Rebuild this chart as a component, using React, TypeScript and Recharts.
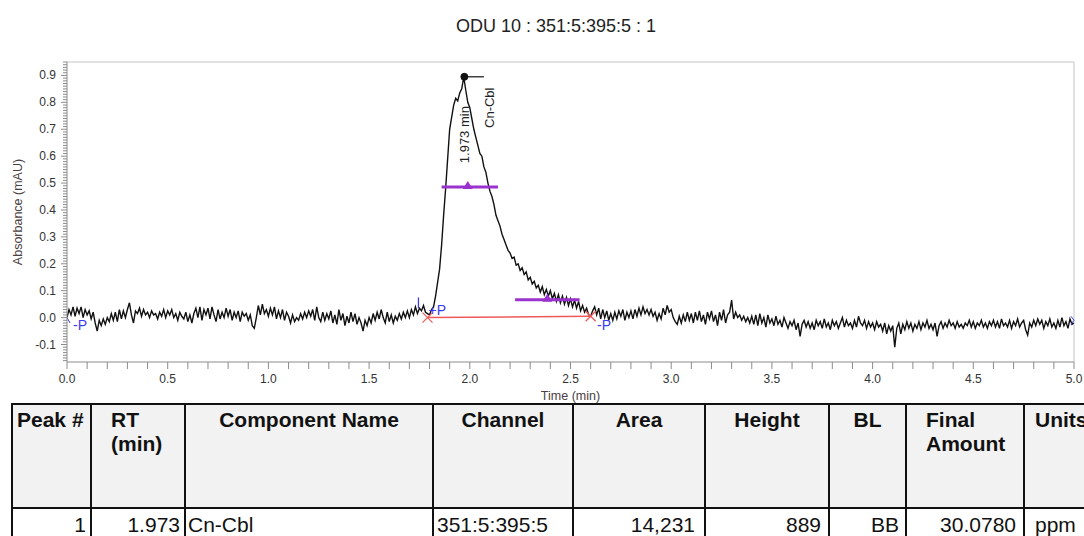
import React from 'react';
import { ComposedChart, Line, XAxis, YAxis, ReferenceLine, ReferenceDot } from 'recharts';

// ---------- data ----------
const chartTitle = 'ODU 10 : 351:5:395:5 : 1';
const xAxisTitle = 'Time (min)';
const yAxisTitle = 'Absorbance (mAU)';

const sampleStep = 0.01; // min between detector samples (0.00 .. 5.00)

// detector signal (mAU), one value per sample
const absorbance: number[] = [
  // 0.00
  0.000, 0.030, 0.010, 0.040, 0.005, 0.035, 0.015, 0.040, 0.000, 0.030,
  // 0.10
  0.010, 0.025, -0.005, 0.020, -0.020, -0.050, -0.010, -0.030, -0.005, -0.025,
  // 0.20
  0.000, -0.015, 0.015, -0.010, 0.020, -0.015, 0.030, -0.005, 0.025, 0.000,
  // 0.30
  0.030, 0.055, 0.010, -0.020, 0.025, 0.015, 0.035, 0.005, 0.030, 0.010,
  // 0.40
  0.020, 0.000, 0.025, 0.010, 0.015, -0.005, 0.020, 0.005, 0.030, 0.000,
  // 0.50
  0.025, 0.010, 0.030, 0.000, 0.015, -0.010, 0.020, 0.005, -0.005, 0.020,
  // 0.60
  -0.015, 0.010, -0.020, 0.015, 0.035, 0.000, 0.040, -0.010, 0.030, 0.010,
  // 0.70
  0.035, -0.005, 0.040, 0.010, -0.015, 0.030, -0.005, 0.020, 0.000, 0.035,
  // 0.80
  0.005, 0.030, -0.010, 0.020, 0.000, 0.025, -0.015, 0.020, 0.005, 0.015,
  // 0.90
  -0.010, 0.010, -0.030, -0.040, 0.000, 0.045, 0.010, 0.050, 0.015, 0.030,
  // 1.00
  0.005, 0.035, 0.010, 0.040, -0.005, 0.025, 0.000, 0.030, -0.010, 0.020,
  // 1.10
  0.005, -0.020, 0.010, -0.015, 0.000, -0.010, 0.015, -0.005, 0.020, 0.000,
  // 1.20
  0.025, 0.005, 0.030, -0.010, 0.040, 0.000, -0.015, 0.020, -0.010, 0.015,
  // 1.30
  -0.005, 0.025, -0.020, 0.010, -0.025, 0.030, -0.010, 0.015, -0.030, 0.005,
  // 1.40
  -0.020, 0.020, -0.015, 0.015, -0.025, 0.000, -0.020, -0.050, -0.010, -0.030,
  // 1.50
  0.000, -0.020, 0.015, -0.010, 0.020, -0.005, 0.030, 0.000, -0.020, 0.020,
  // 1.60
  -0.015, 0.010, -0.020, 0.005, -0.010, 0.015, -0.005, 0.020, 0.000, 0.025,
  // 1.70
  0.000, 0.030, 0.010, 0.040, 0.015, 0.035, 0.025, 0.045, 0.020, 0.015,
  // 1.80
  0.010, 0.030, 0.040, 0.080, 0.130, 0.180, 0.270, 0.380, 0.480, 0.590,
  // 1.90
  0.700, 0.745, 0.790, 0.815, 0.805, 0.835, 0.850, 0.895, 0.845, 0.800,
  // 2.00
  0.780, 0.740, 0.700, 0.670, 0.640, 0.610, 0.600, 0.560, 0.540, 0.500,
  // 2.10
  0.470, 0.450, 0.420, 0.380, 0.360, 0.340, 0.310, 0.290, 0.270, 0.250,
  // 2.20
  0.240, 0.220, 0.225, 0.195, 0.200, 0.175, 0.185, 0.160, 0.170, 0.140,
  // 2.30
  0.150, 0.125, 0.135, 0.110, 0.120, 0.095, 0.115, 0.085, 0.105, 0.080,
  // 2.40
  0.100, 0.070, 0.090, 0.060, 0.085, 0.055, 0.080, 0.050, 0.075, 0.045,
  // 2.50
  0.070, 0.040, 0.065, 0.035, 0.060, 0.025, 0.045, 0.020, 0.035, 0.010,
  // 2.60
  0.005, 0.025, 0.040, 0.010, 0.035, -0.005, 0.030, 0.000, 0.025, -0.010,
  // 2.70
  0.015, -0.010, 0.020, -0.005, 0.025, 0.005, 0.030, -0.010, 0.020, 0.000,
  // 2.80
  0.025, -0.005, 0.030, 0.005, 0.035, 0.010, 0.040, 0.015, 0.030, 0.010,
  // 2.90
  0.030, 0.005, 0.020, -0.010, 0.015, -0.005, 0.035, 0.010, 0.045, 0.020,
  // 3.00
  0.030, 0.000, -0.015, -0.025, 0.005, -0.020, 0.010, -0.015, 0.020, -0.010,
  // 3.10
  0.015, -0.020, 0.020, -0.010, 0.025, -0.015, 0.010, -0.025, 0.020, -0.005,
  // 3.20
  0.025, -0.015, 0.010, -0.030, 0.020, -0.010, 0.030, -0.020, 0.010, 0.020,
  // 3.30
  0.065, -0.005, 0.020, 0.000, 0.010, -0.010, 0.005, -0.015, 0.000, -0.020,
  // 3.40
  0.005, -0.025, 0.010, -0.030, 0.015, -0.020, 0.000, -0.035, 0.010, -0.020,
  // 3.50
  -0.005, -0.030, 0.005, -0.025, -0.010, -0.035, 0.000, -0.020, -0.040, -0.015,
  // 3.60
  -0.030, -0.010, -0.045, -0.020, -0.070, -0.025, -0.010, -0.035, -0.015, -0.040,
  // 3.70
  -0.020, -0.045, -0.010, -0.030, -0.015, -0.040, -0.005, -0.035, -0.020, -0.045,
  // 3.80
  -0.010, -0.030, -0.015, -0.040, -0.020, 0.000, -0.035, -0.010, -0.030, -0.020,
  // 3.90
  -0.040, -0.010, -0.035, 0.005, -0.020, -0.030, -0.010, -0.040, -0.015, -0.035,
  // 4.00
  -0.020, -0.045, -0.015, -0.035, -0.025, -0.050, -0.020, -0.060, -0.030, -0.050,
  // 4.10
  -0.030, -0.110, -0.040, -0.020, -0.060, -0.025, -0.045, -0.015, -0.040, -0.020,
  // 4.20
  -0.050, -0.025, -0.040, -0.015, -0.045, -0.020, -0.035, -0.010, -0.040, -0.025,
  // 4.30
  -0.045, -0.020, -0.070, -0.030, -0.015, -0.040, -0.020, -0.035, -0.010, -0.030,
  // 4.40
  -0.020, -0.040, -0.015, -0.035, -0.025, -0.040, -0.020, -0.030, -0.010, -0.035,
  // 4.50
  -0.015, -0.040, -0.020, -0.030, -0.010, -0.035, -0.020, -0.040, -0.015, -0.030,
  // 4.60
  -0.010, -0.035, -0.015, -0.040, -0.005, -0.030, -0.020, -0.035, -0.010, -0.040,
  // 4.70
  -0.015, -0.030, -0.005, -0.035, -0.020, -0.010, -0.045, -0.065, -0.020, -0.035,
  // 4.80
  -0.010, -0.030, -0.005, -0.025, -0.010, -0.040, -0.015, -0.030, -0.005, -0.035,
  // 4.90
  -0.020, -0.040, -0.010, -0.035, 0.000, -0.030, -0.015, -0.040, -0.005, -0.025,
  // 5.00
  -0.020,
];

const chromatogram = absorbance.map((abs, i) => ({ time: i * sampleStep, abs }));

// axes
const xDomain: [number, number] = [0, 5];
const yDomain: [number, number] = [-0.165, 0.95];
const xMajorTicks = [0, 0.5, 1, 1.5, 2, 2.5, 3, 3.5, 4, 4.5, 5];
const xTickLabels = ['0.0', '0.5', '1.0', '1.5', '2.0', '2.5', '3.0', '3.5', '4.0', '4.5', '5.0'];
const xAllTicks = Array.from({ length: 51 }, (_, i) => i / 10);
const yMajorTicks = [-0.1, 0, 0.1, 0.2, 0.3, 0.4, 0.5, 0.6, 0.7, 0.8, 0.9];
const yTickLabels = ['-0.1', '0.0', '0.1', '0.2', '0.3', '0.4', '0.5', '0.6', '0.7', '0.8', '0.9'];
const yAllTicks = Array.from({ length: 112 }, (_, i) => (i - 16) / 100);

// peak annotations
const peakName = 'Cn-Cbl';
const peakRtLabel = '1.973 min';
const peakApex = { time: 1.973, abs: 0.895 };
const peakTickEnd = 2.07;
const rtLabelPos = { time: 1.973, abs: 0.68 };
const nameLabelPos = { time: 2.1, abs: 0.78 };
const peakBaseline = { start: { time: 1.79, abs: 0.0 }, end: { time: 2.6, abs: 0.005 } };
const halfWidthBar = { from: 1.86, to: 2.14, level: 0.485, mark: 1.99 };
const tailWidthBar = { from: 2.225, to: 2.545, level: 0.066, mark: 2.385 };
const eventMarks = [
  { text: '-P', time: 0.03, abs: -0.045 },
  { text: '+P', time: 1.795, abs: 0.008 },
  { text: '-P', time: 2.632, abs: -0.045 },
];

// result table
const tableHeaders = ['Peak #', 'RT\n(min)', 'Component Name', 'Channel', 'Area', 'Height', 'BL', 'Final\nAmount', 'Units'];
const peakRow = ['1', '1.973', 'Cn-Cbl', '351:5:395:5', '14,231', '889', 'BB', '30.0780', 'ppm'];

// ---------- styles ----------
const FONT = '"Liberation Sans", Arial, Helvetica, sans-serif';
const AXIS_COLOR = '#8c8c8c';
const TICK_TEXT = '#333';
const BLUE = '#3c3cf0';
const PURPLE = '#9a32cd';
const RED = '#ee5a5a';

const colWidths = [79, 94, 248, 140, 132, 124, 77, 118, 100];
const headAlign = ['left', 'left', 'center', 'center', 'center', 'center', 'center', 'left', 'left'];
const headPad = [4, 19, 0, 0, 0, 0, 0, 19, 10];
const rowAlign = ['right', 'right', 'left', 'left', 'right', 'right', 'right', 'right', 'left'];
const rowPad = [4, 4, 2, 3, 9, 7, 6, 7, 10];

const isIn = (v: number, list: number[]) => list.findIndex((m) => Math.abs(m - v) < 1e-6);

const YTick = (props: any) => {
  const { x, y, payload } = props;
  const idx = isIn(payload.value, yMajorTicks);
  const major = idx >= 0;
  return (
    <g>
      <line x1={x - (major ? 6 : 4)} x2={x} y1={y} y2={y} stroke={AXIS_COLOR} strokeWidth={1} />
      {major && (
        <text x={x - 11} y={y} textAnchor="end" dominantBaseline="central" fontSize={12} fill={TICK_TEXT} fontFamily={FONT}>
          {yTickLabels[idx]}
        </text>
      )}
    </g>
  );
};

const XTick = (props: any) => {
  const { x, y, payload } = props;
  const idx = isIn(payload.value, xMajorTicks);
  return (
    <g>
      <line x1={x} x2={x} y1={y} y2={y + 7} stroke={AXIS_COLOR} strokeWidth={1} />
      {idx >= 0 && (
        <text x={x} y={y + 17} textAnchor="middle" dominantBaseline="central" fontSize={12} fill={TICK_TEXT} fontFamily={FONT}>
          {xTickLabels[idx]}
        </text>
      )}
    </g>
  );
};

const rotatedText = (text: string) => (props: any) => (
  <text
    x={props.cx}
    y={props.cy}
    transform={`rotate(-90 ${props.cx} ${props.cy})`}
    textAnchor="middle"
    dominantBaseline="central"
    fontSize={13}
    fill="#222"
    fontFamily={FONT}
  >
    {text}
  </text>
);

const eventText = (text: string) => (props: any) => (
  <text x={props.cx} y={props.cy} fontSize={14} fill={BLUE} fontFamily={FONT}>
    {text}
  </text>
);

const redCross = (props: any) => (
  <g stroke={RED} strokeWidth={1.3}>
    <line x1={props.cx - 5} y1={props.cy - 5} x2={props.cx + 5} y2={props.cy + 5} />
    <line x1={props.cx - 5} y1={props.cy + 5} x2={props.cx + 5} y2={props.cy - 5} />
  </g>
);

const purpleTriangle = (props: any) => (
  <polygon
    points={`${props.cx - 5},${props.cy + 2} ${props.cx + 5},${props.cy + 2} ${props.cx},${props.cy - 6}`}
    fill={PURPLE}
  />
);

export default function App() {
  return (
    <div style={{ position: 'absolute', left: 0, top: 0, width: 1084, height: 536, background: '#fff', overflow: 'hidden', fontFamily: FONT }}>
      <div style={{ position: 'absolute', left: 0, top: 17, width: 1112, textAlign: 'center', fontSize: 18, lineHeight: '18px', color: '#222' }}>
        {chartTitle}
      </div>
      <div style={{ position: 'absolute', left: 0, top: 0 }}>
        <ComposedChart width={1084} height={404} data={chromatogram} margin={{ top: 62, right: 10, bottom: 0, left: 0 }}>
          <XAxis
            type="number"
            dataKey="time"
            domain={xDomain}
            ticks={xAllTicks}
            interval={0}
            tickSize={0}
            tickMargin={0}
            tickLine={false}
            tick={<XTick />}
            height={42}
            axisLine={{ stroke: AXIS_COLOR }}
            allowDataOverflow
            label={{ value: xAxisTitle, position: 'insideBottom', offset: 4, fontSize: 12.5, fill: '#4a4040', fontFamily: FONT }}
          />
          <YAxis
            type="number"
            domain={yDomain}
            ticks={yAllTicks}
            interval={0}
            tickSize={0}
            tickMargin={0}
            tickLine={false}
            tick={<YTick />}
            width={67}
            axisLine={{ stroke: AXIS_COLOR }}
            allowDataOverflow
            label={{ value: yAxisTitle, angle: -90, position: 'insideLeft', offset: 18, fontSize: 12.5, fill: '#4a4040', fontFamily: FONT, style: { textAnchor: 'middle' } }}
          />
          <ReferenceLine y={yDomain[1]} stroke="#c4c4c4" />
          <ReferenceLine x={xDomain[1]} stroke="#c4c4c4" />
          <Line type="linear" dataKey="abs" stroke="#111" strokeWidth={1.4} dot={false} isAnimationActive={false} />

          {/* baseline of integrated peak */}
          <ReferenceLine
            segment={[
              { x: peakBaseline.start.time, y: peakBaseline.start.abs },
              { x: peakBaseline.end.time, y: peakBaseline.end.abs },
            ]}
            stroke={RED}
            strokeWidth={1.5}
          />
          <ReferenceDot x={peakBaseline.start.time} y={peakBaseline.start.abs} r={5} shape={redCross} />
          <ReferenceDot x={peakBaseline.end.time} y={peakBaseline.end.abs} r={5} shape={redCross} />

          {/* width bars */}
          <ReferenceLine
            segment={[
              { x: halfWidthBar.from, y: halfWidthBar.level },
              { x: halfWidthBar.to, y: halfWidthBar.level },
            ]}
            stroke={PURPLE}
            strokeWidth={3}
          />
          <ReferenceDot x={halfWidthBar.mark} y={halfWidthBar.level} r={5} shape={purpleTriangle} />
          <ReferenceLine
            segment={[
              { x: tailWidthBar.from, y: tailWidthBar.level },
              { x: tailWidthBar.to, y: tailWidthBar.level },
            ]}
            stroke={PURPLE}
            strokeWidth={3}
          />
          <ReferenceDot x={tailWidthBar.mark} y={tailWidthBar.level} r={5} shape={purpleTriangle} />

          {/* event marks */}
          <ReferenceLine segment={[{ x: 0, y: 0.0 }, { x: 0.015, y: -0.02 }]} stroke={BLUE} strokeWidth={1} />
          <ReferenceLine segment={[{ x: 1.745, y: 0.075 }, { x: 1.745, y: 0.035 }]} stroke={BLUE} strokeWidth={1.3} />
          <ReferenceLine segment={[{ x: 4.985, y: 0.005 }, { x: 5.0, y: -0.01 }]} stroke={BLUE} strokeWidth={1} />
          <ReferenceLine segment={[{ x: 5.0, y: -0.01 }, { x: 4.985, y: -0.025 }]} stroke={BLUE} strokeWidth={1} />
          {eventMarks.map((m, i) => (
            <ReferenceDot key={i} x={m.time} y={m.abs} r={3} shape={eventText(m.text)} />
          ))}

          {/* apex annotation */}
          <ReferenceLine
            segment={[
              { x: peakApex.time, y: peakApex.abs },
              { x: peakTickEnd, y: peakApex.abs },
            ]}
            stroke="#111"
            strokeWidth={1.2}
          />
          <ReferenceDot x={peakApex.time} y={peakApex.abs} r={3.5} fill="#111" stroke="#111" />
          <ReferenceDot x={rtLabelPos.time} y={rtLabelPos.abs} r={3} shape={rotatedText(peakRtLabel)} />
          <ReferenceDot x={nameLabelPos.time} y={nameLabelPos.abs} r={3} shape={rotatedText(peakName)} />
        </ComposedChart>
      </div>

      {/* result table */}
      <div style={{ position: 'absolute', left: 11, top: 403, borderTop: '2px solid #111', borderLeft: '2px solid #111', fontSize: 21, color: '#111' }}>
        <div style={{ display: 'flex' }}>
          {tableHeaders.map((h, i) => (
            <div
              key={i}
              style={{
                width: colWidths[i],
                height: 104,
                boxSizing: 'border-box',
                borderRight: '2px solid #111',
                borderBottom: '2px solid #111',
                background: '#f2f2f2',
                fontWeight: 'bold',
                textAlign: headAlign[i] as any,
                paddingLeft: headPad[i],
                paddingTop: 3,
                lineHeight: '24px',
                whiteSpace: 'pre',
                overflow: 'hidden',
              }}
            >
              {h}
            </div>
          ))}
        </div>
        <div style={{ display: 'flex' }}>
          {peakRow.map((v, i) => (
            <div
              key={i}
              style={{
                width: colWidths[i],
                height: 40,
                boxSizing: 'border-box',
                borderRight: '2px solid #111',
                background: '#fff',
                textAlign: rowAlign[i] as any,
                paddingLeft: rowAlign[i] === 'left' ? rowPad[i] : 0,
                paddingRight: rowAlign[i] === 'right' ? rowPad[i] : 0,
                paddingTop: 4,
                lineHeight: '24px',
                whiteSpace: 'pre',
                overflow: 'hidden',
              }}
            >
              {v}
            </div>
          ))}
        </div>
      </div>
    </div>
  );
}
